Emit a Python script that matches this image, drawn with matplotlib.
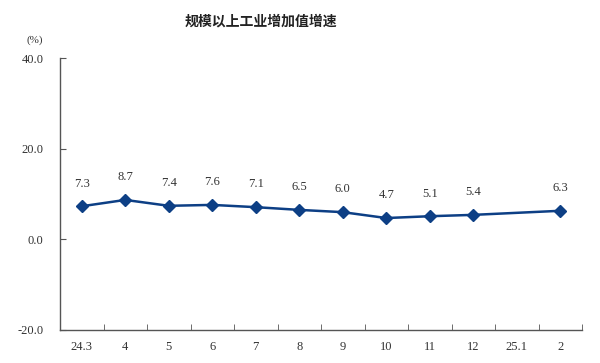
import numpy as np
import matplotlib
matplotlib.use('Agg')
import matplotlib.pyplot as plt

plt.rcParams['font.family'] = ['Noto Sans CJK SC', 'DejaVu Sans']

categories = ['24.3', '4', '5', '6', '7', '8', '9', '10', '11', '12', '25.1', '2']
growth = [7.3, 8.7, 7.4, 7.6, 7.1, 6.5, 6.0, 4.7, 5.1, 5.4, None, 6.3]
y_ticks = [-20, 0, 20, 40]

line_color = '#0d3f85'
text_color = '#333333'
num_font = ['Liberation Serif', 'DejaVu Serif']

fig = plt.figure(figsize=(6, 3.63), dpi=100)
ax = fig.add_axes([0.1, 0.091, 0.87, 0.749])

xs = [i for i, v in enumerate(growth) if v is not None]
ys = [v for v in growth if v is not None]
ax.plot(xs, ys, color=line_color, lw=1.8, marker='D', ms=6.5,
        markerfacecolor=line_color, markeredgecolor=line_color)
for x, y in zip(xs, ys):
    ax.annotate('%.1f' % y, (x, y), xytext=(0, 12), textcoords='offset points',
                ha='center', va='bottom', fontsize=9, color=text_color,
                family=num_font)

ax.set_xlim(-0.5, len(categories) - 0.5)
ax.set_ylim(-20, 40)
ax.set_yticks(y_ticks)
ax.set_yticklabels(['%.1f' % t for t in y_ticks], family=num_font,
                   fontsize=9, color=text_color)
ax.set_xticks(range(len(categories)))
ax.set_xticklabels(categories, family=num_font, fontsize=9, color=text_color)
ax.set_xticks(np.arange(-0.5, len(categories)), minor=True)
ax.tick_params(axis='x', which='major', length=0, pad=8)
ax.tick_params(axis='x', which='minor', length=4, direction='in', color='#555555')
ax.tick_params(axis='y', length=4, direction='in', color='#555555', pad=12)

for s in ['top', 'right']:
    ax.spines[s].set_visible(False)
for s in ['left', 'bottom']:
    ax.spines[s].set_color('#555555')
    ax.spines[s].set_linewidth(1)

fig.text(0.435, 0.94, '规模以上工业增加值增速', ha='center', va='center',
         fontsize=10, fontweight='bold', color='#222222')
fig.text(0.058, 0.89, '(%)', ha='center', va='center', fontsize=8,
         color=text_color, family=num_font)

fig.savefig('out.png', dpi=100)
